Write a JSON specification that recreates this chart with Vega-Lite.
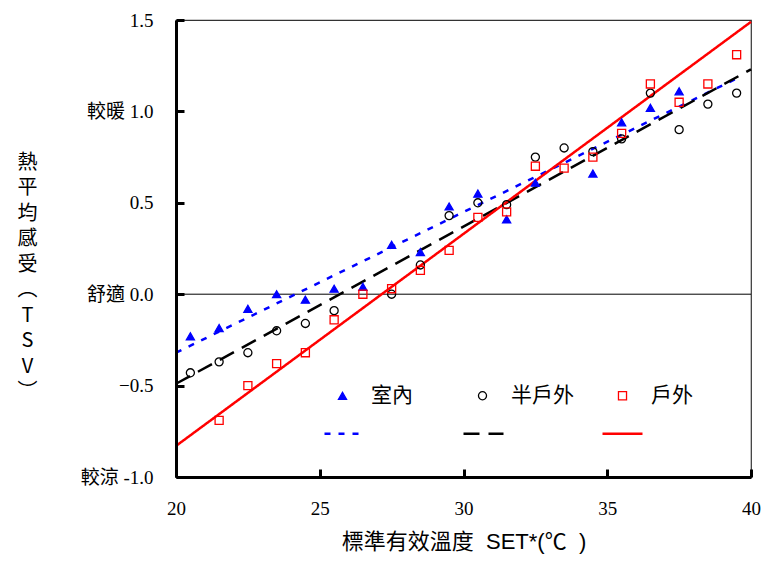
{
  "$schema": "https://vega.github.io/schema/vega-lite/v6.json",
  "width": 575,
  "height": 457,
  "autosize": {"type": "none"},
  "padding": {"left": 176, "top": 20, "right": 14, "bottom": 85},
  "background": "white",
  "config": {
    "view": {"stroke": "#333333", "strokeWidth": 1.2},
    "legend": {"padding": 0}
  },
  "datasets": {
    "pts": [
      {"group": "室內", "x": 20.5, "y": -0.23},
      {"group": "室內", "x": 21.5, "y": -0.185},
      {"group": "室內", "x": 22.5, "y": -0.08},
      {"group": "室內", "x": 23.5, "y": 0.0},
      {"group": "室內", "x": 24.5, "y": -0.03},
      {"group": "室內", "x": 25.5, "y": 0.03},
      {"group": "室內", "x": 26.5, "y": 0.04},
      {"group": "室內", "x": 27.5, "y": 0.27},
      {"group": "室內", "x": 28.5, "y": 0.23},
      {"group": "室內", "x": 29.5, "y": 0.48},
      {"group": "室內", "x": 30.5, "y": 0.55},
      {"group": "室內", "x": 31.5, "y": 0.41},
      {"group": "室內", "x": 32.5, "y": 0.61},
      {"group": "室內", "x": 34.5, "y": 0.66},
      {"group": "室內", "x": 35.5, "y": 0.94},
      {"group": "室內", "x": 36.5, "y": 1.02},
      {"group": "室內", "x": 37.5, "y": 1.11},
      {"group": "半戶外", "x": 20.5, "y": -0.43},
      {"group": "半戶外", "x": 21.5, "y": -0.37},
      {"group": "半戶外", "x": 22.5, "y": -0.32},
      {"group": "半戶外", "x": 23.5, "y": -0.2},
      {"group": "半戶外", "x": 24.5, "y": -0.16},
      {"group": "半戶外", "x": 25.5, "y": -0.09},
      {"group": "半戶外", "x": 27.5, "y": 0.0},
      {"group": "半戶外", "x": 28.5, "y": 0.16},
      {"group": "半戶外", "x": 29.5, "y": 0.43},
      {"group": "半戶外", "x": 30.5, "y": 0.5},
      {"group": "半戶外", "x": 31.5, "y": 0.49},
      {"group": "半戶外", "x": 32.5, "y": 0.75},
      {"group": "半戶外", "x": 33.5, "y": 0.8},
      {"group": "半戶外", "x": 34.5, "y": 0.78},
      {"group": "半戶外", "x": 35.5, "y": 0.85},
      {"group": "半戶外", "x": 36.5, "y": 1.1},
      {"group": "半戶外", "x": 37.5, "y": 0.9},
      {"group": "半戶外", "x": 38.5, "y": 1.04},
      {"group": "半戶外", "x": 39.5, "y": 1.1},
      {"group": "戶外", "x": 21.5, "y": -0.69},
      {"group": "戶外", "x": 22.5, "y": -0.5},
      {"group": "戶外", "x": 23.5, "y": -0.38},
      {"group": "戶外", "x": 24.5, "y": -0.32},
      {"group": "戶外", "x": 25.5, "y": -0.14},
      {"group": "戶外", "x": 26.5, "y": 0.0},
      {"group": "戶外", "x": 27.5, "y": 0.03},
      {"group": "戶外", "x": 28.5, "y": 0.13},
      {"group": "戶外", "x": 29.5, "y": 0.24},
      {"group": "戶外", "x": 30.5, "y": 0.42},
      {"group": "戶外", "x": 31.5, "y": 0.45},
      {"group": "戶外", "x": 32.5, "y": 0.7},
      {"group": "戶外", "x": 33.5, "y": 0.69},
      {"group": "戶外", "x": 34.5, "y": 0.75},
      {"group": "戶外", "x": 35.5, "y": 0.88},
      {"group": "戶外", "x": 36.5, "y": 1.15},
      {"group": "戶外", "x": 37.5, "y": 1.05},
      {"group": "戶外", "x": 38.5, "y": 1.15},
      {"group": "戶外", "x": 39.5, "y": 1.31}
    ],
    "fits": [
      {"fit": "室內線", "x": 20, "y": -0.32},
      {"fit": "室內線", "x": 39.5, "y": 1.18},
      {"fit": "半戶外線", "x": 20, "y": -0.49},
      {"fit": "半戶外線", "x": 40, "y": 1.23},
      {"fit": "戶外線", "x": 20, "y": -0.83},
      {"fit": "戶外線", "x": 40, "y": 1.49}
    ],
    "zero": [{"y": 0}]
  },
  "encoding": {
    "x": {
      "field": "x", "type": "quantitative",
      "scale": {"domain": [20, 40], "nice": false, "zero": false},
      "axis": {
        "values": [20, 25, 30, 35, 40],
        "format": "d",
        "grid": false,
        "ticks": true,
        "zindex": 1,
        "domainColor": "black", "domainWidth": 3,
        "tickColor": "black", "tickWidth": 3, "tickSize": -8,
        "labelFont": "Liberation Serif", "labelFontSize": 19, "labelColor": "black",
        "labelPadding": 30,
        "labelFlush": false,
        "title": "標準有效溫度\u00a0\u00a0SET*(℃\u00a0\u00a0)",
        "titleFont": "Liberation Sans, Noto Sans CJK TC", "titleFontSize": 22,
        "titleFontWeight": "normal", "titleColor": "black",
        "titlePadding": 13
      }
    },
    "y": {
      "field": "y", "type": "quantitative",
      "scale": {"domain": [-1, 1.5], "nice": false, "zero": false},
      "axis": {
        "values": [-1, -0.5, 0, 0.5, 1, 1.5],
        "labelExpr": "datum.value == 1 ? '較暖  1.0' : datum.value == 0 ? '舒適  0.0' : datum.value == -1 ? '較涼 -1.0' : format(datum.value, '.1f')",
        "grid": false,
        "ticks": true,
        "zindex": 1,
        "domainColor": "black", "domainWidth": 3,
        "tickColor": "black", "tickWidth": 3, "tickSize": -8,
        "labelFont": "Liberation Serif, Noto Sans CJK TC", "labelFontSize": 19, "labelColor": "black",
        "labelPadding": 31,
        "labelFlush": false,
        "title": ["熱", "平", "均", "感", "受", "︵", "T", "S", "V", "︶"],
        "titleAngle": 0,
        "titleAlign": "center",
        "titleBaseline": "top",
        "titleX": -149,
        "titleY": 132,
        "titleLineHeight": 25.5,
        "titleFont": "Noto Sans CJK TC", "titleFontSize": 20,
        "titleFontWeight": "normal", "titleColor": "black"
      }
    }
  },
  "layer": [
    {
      "data": {"name": "zero"},
      "mark": {"type": "rule", "color": "black", "strokeWidth": 1},
      "encoding": {"x": null}
    },
    {
      "data": {"name": "fits"},
      "mark": {"type": "line", "strokeWidth": 2.5},
      "encoding": {
        "stroke": {
          "field": "fit", "type": "nominal",
          "scale": {"domain": ["室內線", "半戶外線", "戶外線"], "range": ["#0000ff", "#000000", "#ff0000"]},
          "legend": {
            "title": null,
            "orient": "none",
            "legendX": 147,
            "legendY": 392,
            "direction": "horizontal",
            "columns": 3,
            "columnPadding": 88,
            "labelExpr": "''",
            "labelOffset": 0,
            "labelFontSize": 20,
            "symbolType": "stroke",
            "symbolSize": 1600,
            "symbolStrokeWidth": 2.5
          }
        },
        "strokeDash": {
          "field": "fit", "type": "nominal",
          "scale": {"domain": ["室內線", "半戶外線", "戶外線"], "range": [[6, 8], [16, 9], [1, 0]]}
        }
      }
    },
    {
      "data": {"name": "pts"},
      "mark": {"type": "point", "filled": false, "strokeWidth": 1.3, "size": 65, "opacity": 1},
      "encoding": {
        "color": {
          "field": "group", "type": "nominal",
          "scale": {"domain": ["室內", "半戶外", "戶外"], "range": ["#0000ff", "#000000", "#ff0000"]},
          "legend": {
            "title": null,
            "orient": "none",
            "legendX": 156,
            "legendY": 365,
            "direction": "horizontal",
            "columns": 3,
            "gridAlign": "all",
            "columnPadding": 38,
            "labelFont": "Noto Sans CJK TC",
            "labelFontSize": 21,
            "labelColor": "black",
            "labelOffset": 18,
            "symbolSize": 65,
            "symbolStrokeWidth": 1.3
          }
        },
        "fill": {
          "field": "group", "type": "nominal",
          "scale": {"domain": ["室內", "半戶外", "戶外"], "range": ["#0000ff", "transparent", "transparent"]}
        },
        "shape": {
          "field": "group", "type": "nominal",
          "scale": {"domain": ["室內", "半戶外", "戶外"], "range": ["triangle-up", "circle", "square"]}
        }
      }
    }
  ]
}
